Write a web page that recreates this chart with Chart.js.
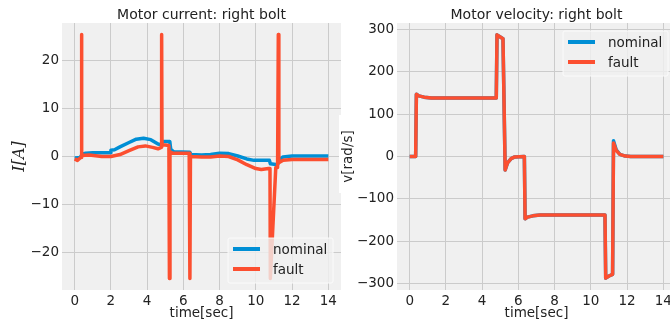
<!DOCTYPE html>
<html>
<head>
<meta charset="utf-8">
<script src="https://cdn.jsdelivr.net/npm/chart.js@4.4.1/dist/chart.umd.min.js"></script>
<style>
  html, body { margin: 0; padding: 0; background: #fff; overflow: hidden; }
  #wrap { position: relative; width: 670px; height: 328px; overflow: hidden; }
  canvas { position: absolute; top: 0; }
  #cur { left: 0; }
  #vel { left: 335px; }
</style>
</head>
<body>
<div id="wrap">
  <canvas id="cur" width="341" height="328"></canvas>
  <canvas id="vel" width="341" height="328"></canvas>
</div>
<script>
// tick labels
var timeTicks = [0, 2, 4, 6, 8, 10, 12, 14];
var curTicks = [-20, -10, 0, 10, 20];
var velTicks = [-300, -200, -100, 0, 100, 200, 300];

// motor current, nominal run
var nomT = [0, 0.3, 0.42, 0.6, 1.0, 1.95, 2.0, 2.2, 2.5, 3.0, 3.4, 3.8, 4.2, 4.6, 4.8, 4.82, 5.25,
  5.3, 5.45, 6.35, 6.42, 7.0, 7.5, 8.0, 8.5, 9.0, 9.5, 9.9, 10.75, 10.8, 11.2, 11.3, 11.5, 12.0, 14.0];
var nomI = [-0.3, -0.2, 0.5, 0.7, 0.8, 0.8, 1.3, 1.4, 2.0, 2.9, 3.6, 3.8, 3.5, 2.6, 2.4, 3.1, 3.1,
  1.5, 1.0, 0.9, 0.4, 0.3, 0.4, 0.7, 0.6, 0.1, -0.5, -0.8, -0.8, -1.5, -1.7, -0.7, -0.1, 0.1, 0.1];

// motor current, fault run
var fltT = [0, 0.15, 0.3, 0.37, 0.38, 0.39, 0.8, 1.5, 2.0, 2.5, 3.0, 3.5, 3.9, 4.3, 4.6, 4.78, 4.8, 4.82,
  5.0, 5.2, 5.23, 5.26, 5.4, 6.32, 6.36, 6.39, 7.0, 7.5, 8.0, 8.5, 9.0, 9.5, 10.0, 10.3, 10.7, 10.78,
  10.8, 11.1, 11.2, 11.24, 11.27, 11.5, 12.0, 14.0];
var fltI = [-0.5, -0.8, -0.3, -0.2, 25.3, 0.2, 0.3, 0.0, 0.0, 0.4, 1.2, 2.0, 2.2, 1.9, 1.6, 1.9, 25.3, 2.4,
  2.4, 2.3, -25.3, 1.0, 0.7, 0.7, -25.3, 0.0, -0.1, -0.1, 0.1, 0.0, -0.7, -1.7, -2.5, -2.7, -2.5, -2.5,
  -25.3, -2.3, -2.3, 25.3, -1.3, -0.8, -0.6, -0.6];

// motor velocity
var velT = [0, 0.33, 0.37, 0.5, 0.8, 1.2, 4.78, 4.82, 5.0, 5.15, 5.27, 5.4, 5.6, 5.8, 6.33, 6.37, 6.5,
  6.8, 7.2, 10.78, 10.82, 11.0, 11.2, 11.25, 11.4, 11.6, 11.9, 12.2, 14.0];
var velNominal = [0, 0, 147, 143, 140, 138, 138, 287, 282, 278, -32, -15, -5, -1, 0, -147, -143,
  -140, -138, -138, -287, -282, -278, 37, 16, 5, 1, 0, 0];
var velFault = [0, 0, 147, 143, 140, 138, 138, 287, 282, 278, -32, -15, -5, -1, 0, -147, -143,
  -140, -138, -138, -287, -282, -278, 32, 14, 5, 1, 0, 0];

var BLUE = '#008fd5';
var RED = '#fc4f30';
var FONT = 'DejaVu Sans';

function toPoints(xs, ys) {
    return xs.map(function (x, i) { return { x: x, y: ys[i] }; });
}

function tickText(v) {
    return v < 0 ? '\u2212' + Math.abs(v) : String(v);
}

// 绘图区背景、标题、图例
var panelPlugin = {
    id: 'panel',
    beforeDraw: function (chart, args, opts) {
        var a = chart.chartArea, ctx = chart.ctx;
        ctx.save();
        if (opts.labelBox) {
            ctx.fillStyle = '#ffffff';
            ctx.fillRect(opts.labelBox[0], opts.labelBox[1], opts.labelBox[2], opts.labelBox[3]);
        }
        ctx.fillStyle = '#f0f0f0';
        ctx.fillRect(a.left, a.top, a.right - a.left, a.bottom - a.top);
        ctx.fillStyle = '#222222';
        ctx.font = '14px "' + FONT + '"';
        ctx.textAlign = 'center';
        ctx.textBaseline = 'middle';
        ctx.fillText(opts.title, (a.left + a.right) / 2, 15);
        ctx.restore();
    },
    afterDatasetsDraw: function (chart, args, opts) {
        var a = chart.chartArea, ctx = chart.ctx;
        var w = 105, h = 45;
        var left = a.right - 8 - w;
        var top = opts.legendAt === 'lower' ? a.bottom - 7 - h : a.top + 8;
        ctx.save();
        ctx.beginPath();
        ctx.roundRect(left, top, w, h, 2);
        ctx.fillStyle = 'rgba(240,240,240,0.8)';
        ctx.fill();
        ctx.strokeStyle = 'rgba(252,252,252,0.9)';
        ctx.lineWidth = 1;
        ctx.stroke();
        ctx.font = '13.5px "' + FONT + '"';
        ctx.textBaseline = 'middle';
        ctx.textAlign = 'left';
        chart.data.datasets.forEach(function (ds, i) {
            var y = top + 11 + i * 20;
            ctx.beginPath();
            ctx.moveTo(left + 5, y);
            ctx.lineTo(left + 32, y);
            ctx.strokeStyle = ds.borderColor;
            ctx.lineWidth = 4;
            ctx.stroke();
            ctx.fillStyle = '#222222';
            ctx.fillText(ds.label, left + 45, y + 1);
        });
        ctx.restore();
    }
};

function makeChart(id, cfg) {
    var ctx = document.getElementById(id).getContext('2d');
    return new Chart(ctx, {
        type: 'line',
        data: {
            datasets: [{
                label: 'nominal',
                data: cfg.nominal,
                borderColor: BLUE,
                borderWidth: 3.5,
                order: 1
            }, {
                label: 'fault',
                data: cfg.fault,
                borderColor: RED,
                borderWidth: 3.5,
                order: 0
            }]
        },
        options: {
            responsive: false,
            animation: false,
            devicePixelRatio: 1,
            layout: { padding: { top: 23, left: 0, right: 0, bottom: 0 } },
            elements: {
                point: { radius: 0 },
                line: { tension: 0, borderJoinStyle: 'round', borderCapStyle: 'butt' }
            },
            plugins: {
                legend: { display: false },
                tooltip: { enabled: false },
                panel: { title: cfg.title, legendAt: cfg.legendAt, labelBox: cfg.labelBox }
            },
            scales: {
                x: {
                    type: 'linear',
                    min: -0.7,
                    max: 14.7,
                    afterBuildTicks: function (s) { s.ticks = timeTicks.map(function (v) { return { value: v }; }); },
                    afterFit: function (s) { s.height = 38; },
                    grid: { color: '#cbcbcb', lineWidth: 1, drawTicks: false },
                    border: { display: false },
                    ticks: { color: '#222222', font: { family: FONT, size: 13.5 }, padding: 3, callback: tickText },
                    title: {
                        display: true, text: 'time[sec]', color: '#222222',
                        font: { family: FONT, size: 13.5 }, padding: { top: 0, bottom: 6 }
                    }
                },
                y: {
                    type: 'linear',
                    min: -cfg.yLim,
                    max: cfg.yLim,
                    afterBuildTicks: function (s) { s.ticks = cfg.ticks.map(function (v) { return { value: v }; }); },
                    afterFit: function (s) { s.width = 62; },
                    grid: { color: '#cbcbcb', lineWidth: 1, drawTicks: false },
                    border: { display: false },
                    ticks: { color: '#222222', font: { family: FONT, size: 13.5 }, padding: 3, callback: tickText },
                    title: cfg.yTitle
                }
            }
        },
        plugins: [panelPlugin]
    });
}

makeChart('cur', {
    title: 'Motor current: right bolt',
    nominal: toPoints(nomT, nomI),
    fault: toPoints(fltT, fltI),
    yLim: 27.7,
    ticks: curTicks,
    legendAt: 'lower',
    yTitle: {
        display: true, text: 'I[A]', color: '#222222',
        font: { family: 'DejaVu Serif', style: 'italic', size: 16 }, padding: { top: 10, bottom: 0 }
    }
});

makeChart('vel', {
    title: 'Motor velocity: right bolt',
    nominal: toPoints(velT, velNominal),
    fault: toPoints(velT, velFault),
    yLim: 315,
    ticks: velTicks,
    legendAt: 'upper',
    labelBox: [4, 115, 24, 78],
    yTitle: {
        display: true, text: 'v[rad/s]', color: '#222222',
        font: { family: FONT, size: 13.5 }, padding: { top: 5, bottom: 0 }
    }
});
</script>
</body>
</html>
